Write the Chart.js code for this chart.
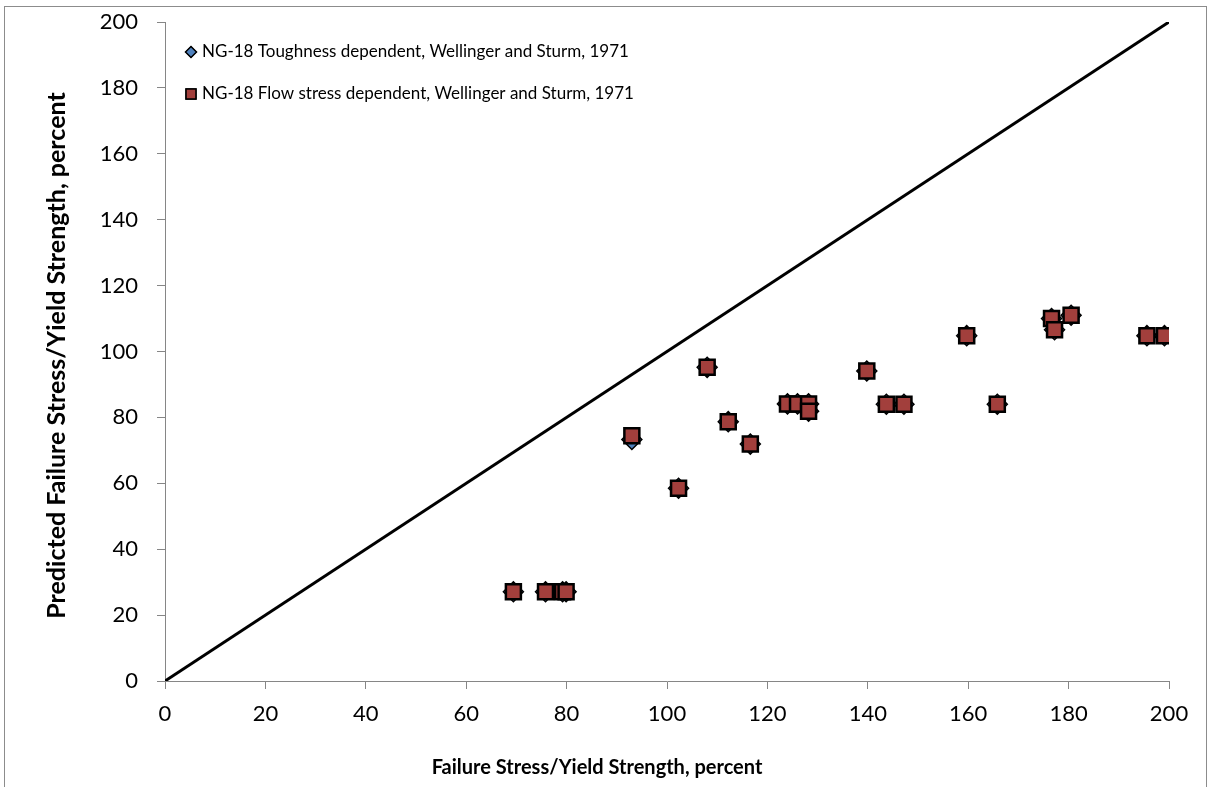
<!DOCTYPE html>
<html>
<head>
<meta charset="utf-8">
<script src="https://cdn.jsdelivr.net/npm/chart.js@4.4.1/dist/chart.umd.min.js"></script>
<style>
  html, body { margin: 0; padding: 0; background: #fff; }
  #wrap { width: 1208px; height: 787px; position: relative; }
</style>
</head>
<body>
<div id="wrap"><canvas id="failChart"></canvas></div>
<script>
// measured failure stress / yield strength (percent)
const failureStress = [69.4, 75.8, 79.2, 79.9, 93.0, 102.3, 108.0, 112.2, 116.6, 124.0, 126.0, 128.2, 128.2,
  139.8, 143.7, 147.2, 159.7, 165.8, 176.6, 177.2, 180.5, 195.6, 199.1];
// NG-18 predictions, toughness dependent
const predToughness = [27.1, 27.1, 27.1, 27.1, 73.3, 58.5, 95.2, 78.7, 71.9, 84.1, 84.1, 84.1, 81.9,
  94.1, 84.0, 84.0, 104.8, 84.0, 110.0, 106.6, 111.0, 104.8, 104.8];
// NG-18 predictions, flow stress dependent
const predFlowStress = [27.1, 27.1, 27.1, 27.1, 74.4, 58.5, 95.2, 78.7, 71.9, 84.1, 84.1, 84.1, 81.9,
  94.1, 84.0, 84.0, 104.8, 84.0, 110.0, 106.6, 111.0, 104.8, 104.8];
const equalityLine = [0, 200];
const axisTicks = [0, 20, 40, 60, 80, 100, 120, 140, 160, 180, 200];

const seriesNames = [
  'NG-18 Toughness dependent, Wellinger and Sturm, 1971',
  'NG-18 Flow stress dependent, Wellinger and Sturm, 1971'
];
const xTitle = 'Failure Stress/Yield Strength, percent';
const yTitle = 'Predicted Failure Stress/Yield Strength, percent';

const toPoints = (xs, ys) => xs.map((x, i) => ({ x: x, y: ys[i] }));

const AXIS_GREY = '#868686';
const FONT = 'Lato, "Open Sans", sans-serif';

// frame, legend and axis titles
const decorations = {
  id: 'decorations',
  beforeDraw(chart) {
    const ctx = chart.ctx;
    ctx.save();
    ctx.strokeStyle = '#8c8c8c';
    ctx.lineWidth = 1;
    ctx.strokeRect(4.5, 6.5, 1202, 800);
    ctx.restore();
  },
  afterDraw(chart) {
    const ctx = chart.ctx;
    const area = chart.chartArea;
    ctx.save();

    // legend in the upper left of the plot
    const rows = [52, 94];
    chart.data.datasets.slice(0, 2).forEach((ds, i) => {
      const y = rows[i];
      Chart.helpers.drawPoint(ctx, {
        pointStyle: ds.pointStyle,
        radius: i === 0 ? 5.5 : 7,
        borderWidth: 1.5
      }, 191, y);
      ctx.fillStyle = ds.backgroundColor;
      ctx.strokeStyle = '#000';
      ctx.lineWidth = 1.5;
      ctx.fill();
      ctx.stroke();
      ctx.fillStyle = '#000';
      ctx.font = '17px ' + FONT;
      ctx.textAlign = 'left';
      ctx.textBaseline = 'middle';
      ctx.fillText(seriesNames[i], 202, y);
    });

    // axis titles
    ctx.fillStyle = '#000';
    ctx.font = 'bold 20px ' + FONT;
    ctx.textAlign = 'center';
    ctx.textBaseline = 'middle';
    ctx.fillText(xTitle, 597, 768);
    ctx.font = 'bold 25px ' + FONT;
    ctx.translate(57, (area.top + area.bottom) / 2 + 4);
    ctx.rotate(-Math.PI / 2);
    ctx.fillText(yTitle, 0, 0);
    ctx.restore();
  }
};

const fixedTicks = scale => {
  scale.ticks = axisTicks.map(v => ({ value: v }));
};

new Chart(document.getElementById('failChart'), {
  type: 'scatter',
  data: {
    datasets: [
      {
        label: seriesNames[0],
        data: toPoints(failureStress, predToughness),
        pointStyle: 'rectRot',
        pointRadius: 10,
        pointHoverRadius: 10,
        backgroundColor: '#4f81bd',
        borderColor: '#000',
        borderWidth: 1.5,
        order: 2
      },
      {
        label: seriesNames[1],
        data: toPoints(failureStress, predFlowStress),
        pointStyle: 'rect',
        pointRadius: 10.6,
        pointHoverRadius: 10.6,
        backgroundColor: '#a23f3c',
        borderColor: '#000',
        borderWidth: 2.5,
        order: 1
      },
      {
        type: 'line',
        label: 'equality',
        data: toPoints(equalityLine, equalityLine),
        borderColor: '#000',
        borderWidth: 3,
        pointRadius: 0,
        fill: false,
        order: 3
      }
    ]
  },
  options: {
    responsive: true,
    maintainAspectRatio: false,
    animation: false,
    layout: { padding: { top: 22, right: 39, left: 0, bottom: 0 } },
    plugins: {
      legend: { display: false },
      tooltip: { enabled: false }
    },
    scales: {
      x: {
        type: 'linear',
        min: 0,
        max: 200,
        afterBuildTicks: fixedTicks,
        afterFit: scale => {
          scale.height = 106;
          scale.paddingLeft = 0;
          scale.paddingRight = 0;
        },
        grid: { drawOnChartArea: false, drawTicks: true, tickLength: 8, color: AXIS_GREY },
        border: { color: AXIS_GREY, width: 1 },
        ticks: { color: '#000', font: { family: FONT, size: 22 }, padding: 12, maxRotation: 0 }
      },
      y: {
        type: 'linear',
        min: 0,
        max: 200,
        afterBuildTicks: fixedTicks,
        afterFit: scale => {
          scale.width = 165;
          scale.paddingTop = 0;
          scale.paddingBottom = 0;
        },
        grid: { drawOnChartArea: false, drawTicks: true, tickLength: 8, color: AXIS_GREY },
        border: { color: AXIS_GREY, width: 1 },
        ticks: { color: '#000', font: { family: FONT, size: 22 }, padding: 19 }
      }
    }
  },
  plugins: [decorations]
});
</script>
</body>
</html>
